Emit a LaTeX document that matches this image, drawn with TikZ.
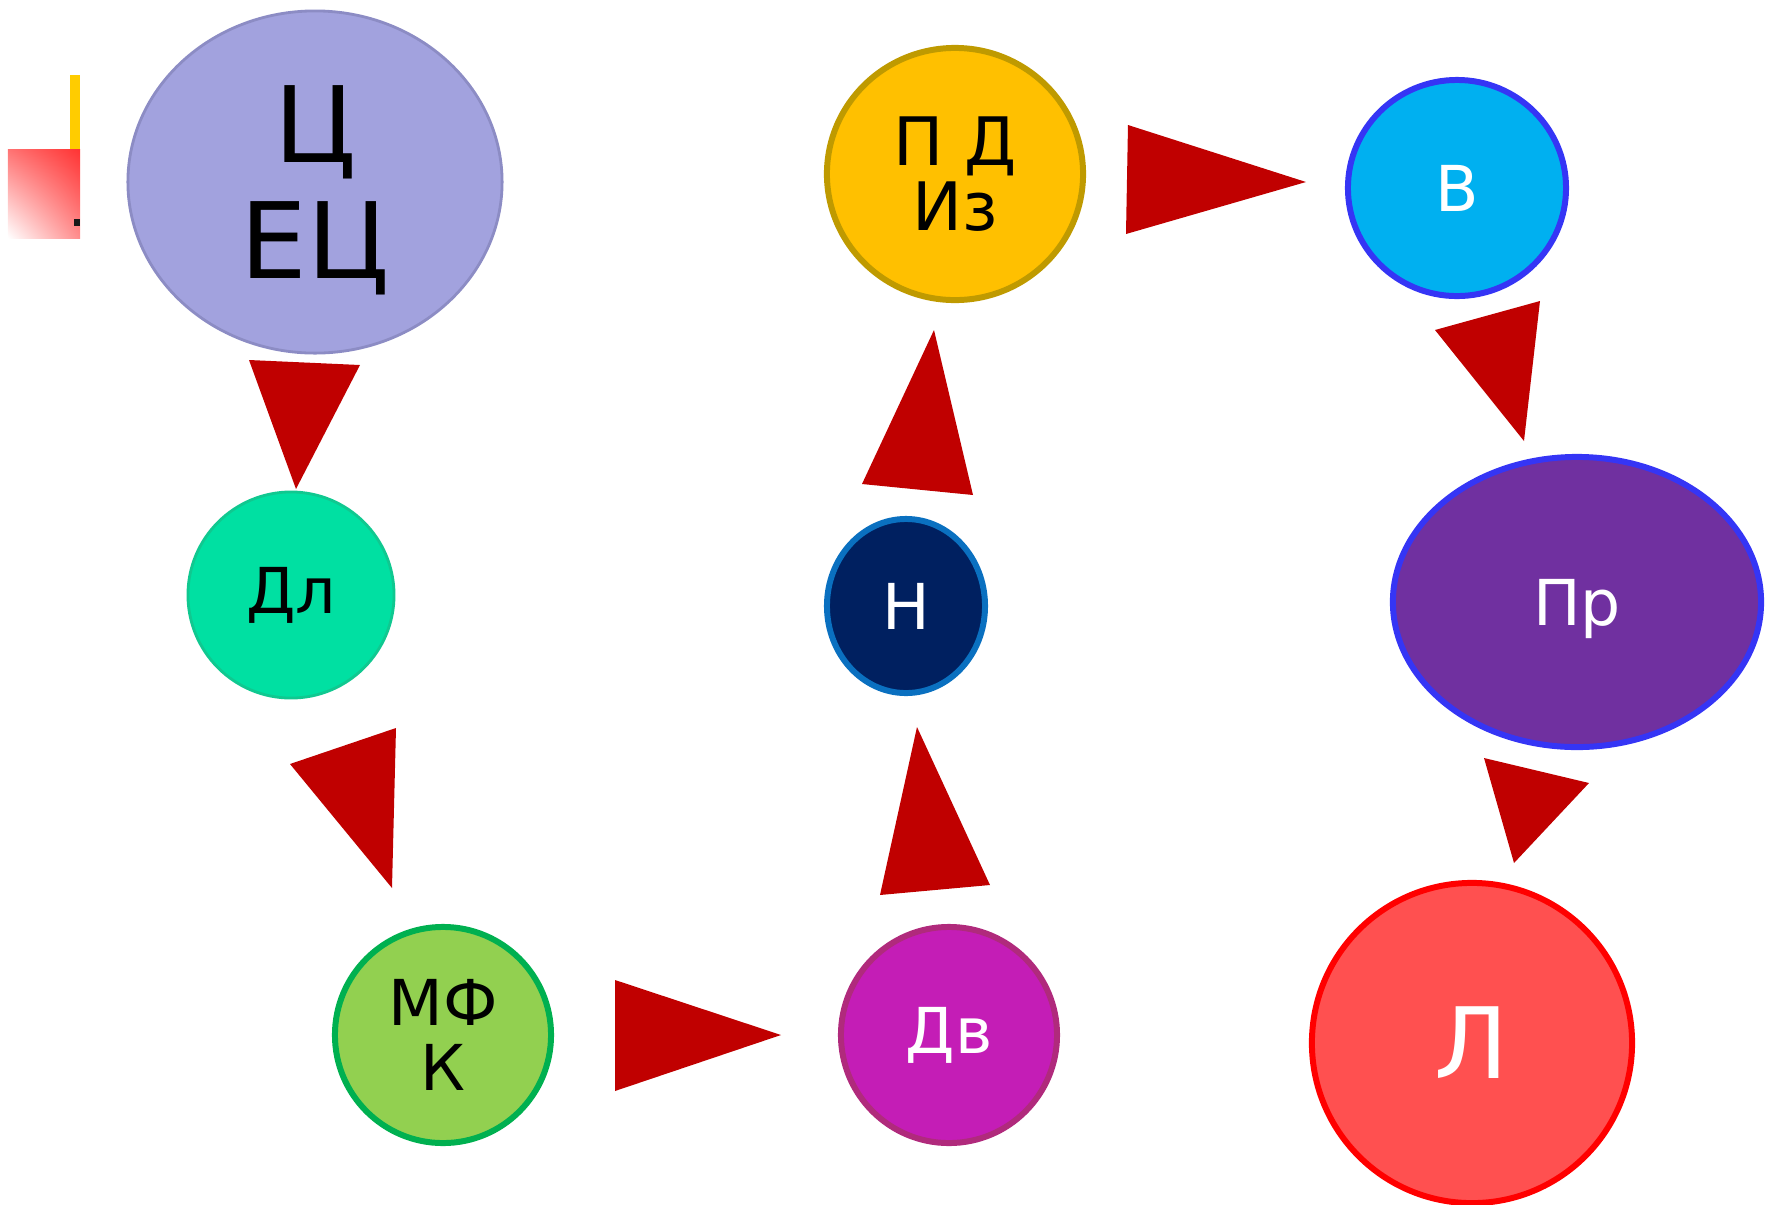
\documentclass[tikz,border=0pt]{standalone}
\usepackage{fontspec}
\setmainfont{DejaVu Sans}
\usetikzlibrary{shapes.geometric,shadings}

\definecolor{lavfill}{HTML}{A2A2DE}
\definecolor{lavedge}{HTML}{8C8CC4}
\definecolor{mintfill}{HTML}{00E0A2}
\definecolor{mintedge}{HTML}{10C890}
\definecolor{limefill}{HTML}{92D050}
\definecolor{limeedge}{HTML}{00B050}
\definecolor{magfill}{HTML}{C41DB6}
\definecolor{magedge}{HTML}{B02A7C}
\definecolor{navyfill}{HTML}{002060}
\definecolor{navyedge}{HTML}{0A70C0}
\definecolor{goldfill}{HTML}{FFC000}
\definecolor{goldedge}{HTML}{BF9A00}
\definecolor{skyfill}{HTML}{00B0F0}
\definecolor{blueedge}{HTML}{3535F5}
\definecolor{plumfill}{HTML}{7030A0}
\definecolor{coralfill}{HTML}{FF5050}
\definecolor{coraledge}{HTML}{FF0000}
\definecolor{pointred}{HTML}{C00000}
\definecolor{baryellow}{HTML}{FFCC00}

\tikzset{
	blob/.style={ellipse, line width=1.7pt, inner sep=0pt, align=center},
	pointer/.style={fill=pointred},
	midtext/.style={font=\fontsize{18}{19}\selectfont},
}

\begin{document}
\begin{tikzpicture}[x=0.01cm, y=-0.01cm]
		\useasboundingbox (0,0) rectangle (1765,1205);
		%corner mark
		\fill[baryellow] (70,75) rectangle (80,149);
		\shade[upper left=red!55, upper right=red!80, lower left=white, lower right=red!45] (8,149) rectangle (80,238);
		\fill[black!90] (74,219) rectangle (80,226);
		%%% circles
		\node[blob, fill=lavfill, draw=lavedge, line width=0.8pt, minimum width=3.74cm, minimum height=3.42cm, text depth=-1pt, font=\fontsize{30}{33}\selectfont] (cec) at (315,182) {Ц\\ЕЦ};
		\node[blob, fill=mintfill, draw=mintedge, line width=0.8pt, minimum width=2.06cm, minimum height=2.06cm, midtext] (dl) at (291,595) {Дл};
		\node[blob, fill=limefill, draw=limeedge, minimum width=2.16cm, minimum height=2.16cm, font=\fontsize{18}{18.5}\selectfont] (mfk) at (443,1035) {МФ\\К};
		\node[blob, fill=magfill, draw=magedge, text=white, minimum width=2.16cm, minimum height=2.16cm, midtext] (dv) at (949,1035) {Дв};
		\node[blob, fill=navyfill, draw=navyedge, text=white, minimum width=1.58cm, minimum height=1.74cm, midtext] (n) at (906,606) {Н};
		\node[blob, fill=goldfill, draw=goldedge, minimum width=2.56cm, minimum height=2.52cm, font=\fontsize{19}{18.5}\selectfont] (pdiz) at (955,174) {П Д\\Из};
		\node[blob, fill=skyfill, draw=blueedge, text=white, minimum width=2.18cm, minimum height=2.16cm, midtext] (v) at (1457,188) {В};
		\node[blob, fill=plumfill, draw=blueedge, text=white, minimum width=3.68cm, minimum height=2.9cm, text depth=0pt, midtext] (pr) at (1577,602) {Пр};
		\node[blob, fill=coralfill, draw=coraledge, text=white, minimum width=3.2cm, minimum height=3.2cm, font=\fontsize{28}{30}\selectfont] (l) at (1472,1043) {Л};
		%%% triangles
		\fill[pointer] (249,360) -- (360,365) -- (296,489) -- cycle;
		\fill[pointer] (290,764) -- (396,728) -- (392,888) -- cycle;
		\fill[pointer] (615,980) -- (615,1091) -- (781,1035) -- cycle;
		\fill[pointer] (880,895) -- (990,885) -- (917,727) -- cycle;
		\fill[pointer] (862,484) -- (973,495) -- (934,330) -- cycle;
		\fill[pointer] (1128,125) -- (1126,234) -- (1306,182) -- cycle;
		\fill[pointer] (1435,330) -- (1540,301) -- (1524,441) -- cycle;
		\fill[pointer] (1484,758) -- (1589,783) -- (1514,863) -- cycle;
	\end{tikzpicture}
\end{document}
